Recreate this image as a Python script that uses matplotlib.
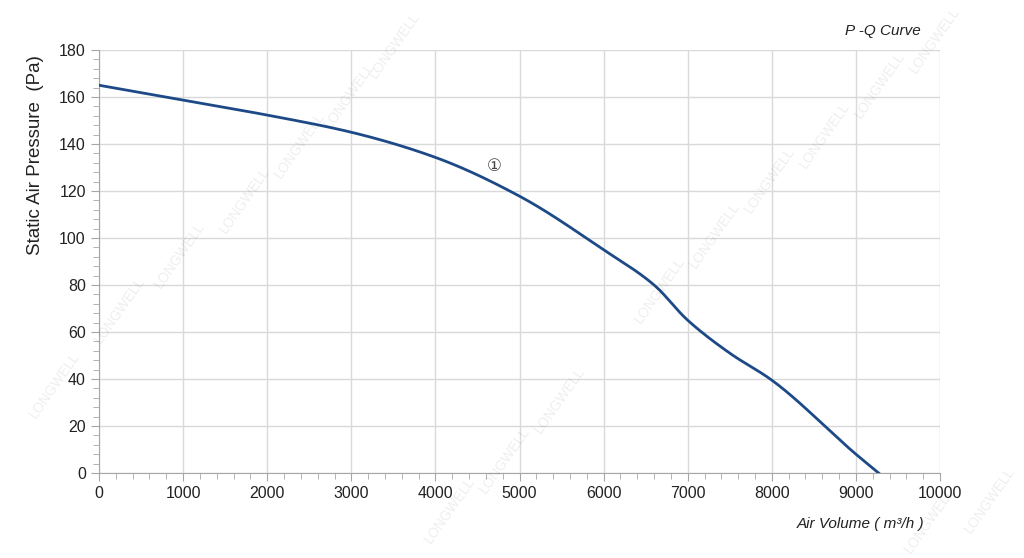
import matplotlib
matplotlib.use("Agg")
import matplotlib.pyplot as plt
import numpy as np
from matplotlib.ticker import MultipleLocator

plt.rcParams['font.family'] = ['Liberation Sans', 'DejaVu Sans']

# P-Q curve
air_volume = [0, 1000, 2000, 3000, 4000, 5000, 6000, 6600, 7000, 7500, 8000, 9000, 9270]
pressure = [165, 158.7, 152.3, 145, 134.3, 117.8, 95, 80, 65, 51, 39.5, 8, 0]

curve_label = "①"
label_pos = (4700, 130.5)


def pchip(x, y, xn):
    # monotone cubic interpolation (Fritsch-Carlson)
    x = np.asarray(x, float)
    y = np.asarray(y, float)
    h = np.diff(x)
    d = np.diff(y) / h
    m = np.zeros_like(y)
    for i in range(1, len(x) - 1):
        if d[i - 1] * d[i] > 0:
            w1 = 2 * h[i] + h[i - 1]
            w2 = h[i] + 2 * h[i - 1]
            m[i] = (w1 + w2) / (w1 / d[i - 1] + w2 / d[i])
    m[0] = d[0]
    m[-1] = d[-1]
    k = np.clip(np.searchsorted(x, xn) - 1, 0, len(x) - 2)
    t = (xn - x[k]) / h[k]
    h00 = 2 * t**3 - 3 * t**2 + 1
    h10 = t**3 - 2 * t**2 + t
    h01 = -2 * t**3 + 3 * t**2
    h11 = t**3 - t**2
    return h00 * y[k] + h10 * h[k] * m[k] + h01 * y[k + 1] + h11 * h[k] * m[k + 1]


fig = plt.figure(figsize=(10.24, 5.58), dpi=100)
ax = fig.add_axes([0.0967, 0.1523, 0.8213, 0.7581])

xs = np.linspace(air_volume[0], air_volume[-1], 600)
ys = pchip(air_volume, pressure, xs)
ax.plot(xs, ys, color='#1d4a87', lw=2, zorder=3)

ax.text(label_pos[0], label_pos[1], curve_label, fontsize=12, color='#444444',
        family=['DejaVu Sans'], ha='center', va='center')

ax.set_xlim(0, 10000)
ax.set_ylim(0, 180)
ax.xaxis.set_major_locator(MultipleLocator(1000))
ax.xaxis.set_minor_locator(MultipleLocator(200))
ax.yaxis.set_major_locator(MultipleLocator(20))
ax.yaxis.set_minor_locator(MultipleLocator(4))
ax.grid(True, which='major', color='#d9d9d9', lw=1)
ax.set_axisbelow(True)
for s in ['top', 'right']:
    ax.spines[s].set_visible(False)
for s in ['left', 'bottom']:
    ax.spines[s].set_color('#a6a6a6')
ax.tick_params(which='major', length=6, color='#a6a6a6', labelsize=11.5, labelcolor='#222222')
ax.tick_params(which='minor', length=4, color='#a6a6a6')

ax.set_ylabel("Static Air Pressure  (Pa)", fontsize=13.5, color='#222222')
ax.yaxis.set_label_coords(-0.066, 0.752)
fig.text(0.862, 0.9445, "P -Q Curve", fontsize=11, style='italic', ha='center', va='center', color='#222222')
fig.text(0.84, 0.061, "Air Volume ( m³/h )", fontsize=11, style='italic', ha='center', va='center', color='#222222')

# faint watermark
wm_pos = [(395, 45), (350, 95), (300, 145), (245, 200), (180, 255), (120, 310), (55, 385),
          (935, 40), (880, 85), (825, 135), (770, 180), (715, 235), (660, 290), (560, 400), (505, 460), (450, 510),
          (990, 500), (930, 520)]
for px, py in wm_pos:
    fig.text(px / 1024, 1 - py / 558, "LONGWELL", fontsize=10, color='#000000', alpha=0.07,
             rotation=55, ha='center', va='center')

fig.savefig("out.png", dpi=100)
